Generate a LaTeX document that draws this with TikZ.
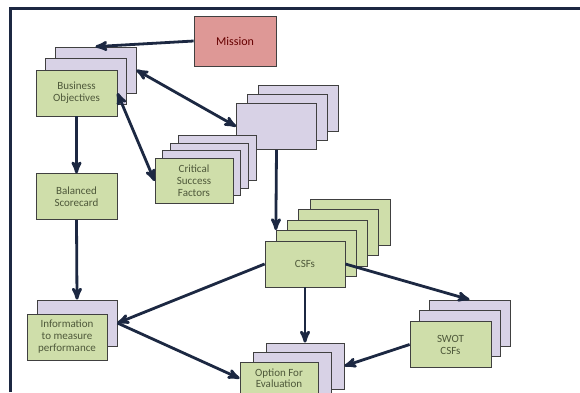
\documentclass[tikz,border=0pt]{standalone}
\usepackage{fontspec}
\setmainfont{Carlito}
\usetikzlibrary{positioning, arrows}
\definecolor{cardgreen}{RGB}{207,222,170}
\definecolor{cardlilac}{RGB}{216,210,230}
\definecolor{missionred}{RGB}{222,152,150}
\definecolor{linknavy}{RGB}{28,40,66}
\definecolor{labelgray}{RGB}{78,88,58}

\begin{document}
\begin{tikzpicture}[
        x=1pt, y=-1pt,
        >=stealth',
        card/.style={rectangle, draw=black!75, line width=0.8pt,
            minimum width=81pt, minimum height=46pt, inner sep=1pt,
            align=center, text=labelgray,
            font=\fontsize{11}{12}\selectfont},
        greencard/.style={card, fill=cardgreen},
        lilaccard/.style={card, fill=cardlilac},
        link/.style={draw=linknavy, line width=2.8pt}
    ]

        \clip (0,0) rectangle (580,392);
        \fill[white] (0,0) rectangle (580,392);

        % Frame
        \draw[linknavy, line width=3pt] (10,392) -- (10,8.5) -- (580,8.5);

        % Mission
        \node[card, fill=missionred, minimum width=82pt, minimum height=50pt,
              text=red!40!black, font=\fontsize{12}{13}\selectfont] (mission) at (235,41) {Mission};

        % Business objectives stack
        \foreach \i in {2,1}
            \node[lilaccard, xshift=\i*9.5pt, yshift=\i*11.5pt] (bo\i) at (76.5,93) {};
        \node[greencard] (bo) at (76.5,93) {Business\\Objectives};
        \node[greencard, below=57pt of bo] (bsc) {Balanced\\Scorecard};

        % Blank stack
        \foreach \i in {2,1,0}
            \node[lilaccard, minimum width=80pt, xshift=\i*11pt, yshift=\i*9pt] (pu\i) at (276.5,126.5) {};

        % Critical success factors stack
        \foreach \i in {3,2,1}
            \node[lilaccard, minimum width=78pt, minimum height=45pt,
                  xshift=\i*7.7pt, yshift=\i*7.8pt] (csf\i) at (194,181) {};
        \node[greencard, minimum width=78pt, minimum height=45pt] (csf) at (194,181)
            {Critical\\Success\\Factors};

        % CSFs stack
        \foreach \i in {4,3,2,1}
            \node[greencard, minimum width=80pt, xshift=\i*11.25pt, yshift=\i*10.5pt] (csfs\i) at (305,264) {};
        \node[greencard, minimum width=80pt] (csfs) at (305,264) {CSFs};

        % Information stack
        \node[lilaccard, minimum width=80pt] (info1) at (77,323) {};
        \node[greencard, minimum width=80pt] (info) at (67,337)
            {Information\\to measure\\performance};

        % SWOT stack
        \foreach \i in {2,1}
            \node[lilaccard, xshift=\i*9.5pt, yshift=\i*10.75pt] (swot\i) at (450.5,344.5) {};
        \node[greencard] (swot) at (450.5,344.5) {SWOT\\CSFs};

        % Option stack (runs off the bottom edge)
        \foreach \i in {2,1}
            \node[lilaccard, minimum width=78pt, xshift=\i*13pt, yshift=\i*9.5pt] (opt\i) at (279,385) {};
        \node[greencard, minimum width=78pt, minimum height=32pt, anchor=north,
              font=\fontsize{11}{11.5}\selectfont] (opt) at (279,362) {Option For\\Evaluation};

        % Links
        \path[link]
            (mission.west) edge[->] (bo2.north)
            (bo) edge[->] (bsc)
            (bsc.south) edge[->] (info1.north)
            (pu0.south) edge[->] (csfs1.north west)
            (csfs.west) edge[->] (info1.east)
            (info1.east) edge[->] (opt.west)
            (csfs.south) edge[->] (opt2.north)
            (csfs.east) edge[->] (swot2.north)
            (swot.west) edge[->] (opt2.east);

        % Two-way links
        \draw[link, <->] (bo2.east) -- (pu0.west);
        \draw[link, <->] (bo.east) -- (csf.west);

    \end{tikzpicture}
\end{document}
